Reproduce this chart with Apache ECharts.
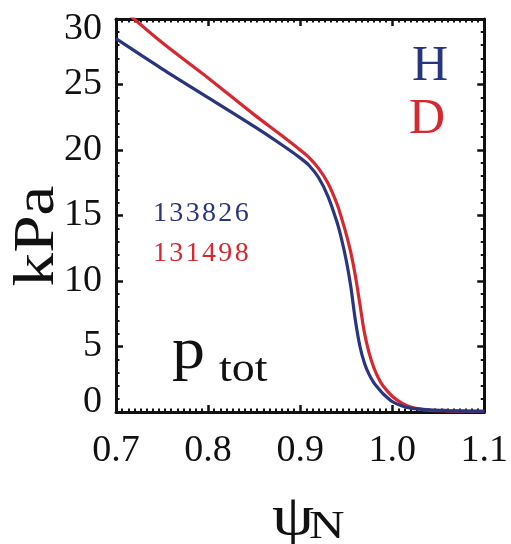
<!DOCTYPE html>
<html>
<head>
<meta charset="utf-8">
<script src="https://cdn.jsdelivr.net/npm/echarts@6/dist/echarts.min.js"></script>
<style>
html,body{margin:0;padding:0;background:#fff;}
#c{width:511px;height:544px;}
</style>
</head>
<body>
<div id="c"></div>
<script>
// Data
const psiH = [0.70, 0.75, 0.80, 0.85, 0.88, 0.90, 0.91, 0.92, 0.93, 0.94, 0.945, 0.95, 0.955, 0.96, 0.965, 0.97, 0.975, 0.98, 0.985, 0.99, 1.00, 1.01, 1.02, 1.04, 1.06, 1.08, 1.10];
const pH   = [28.5, 26.2, 24.0, 21.8, 20.4, 19.4, 18.8, 17.9, 16.5, 14.5, 13.2, 11.6, 9.6, 7.0, 5.0, 3.7, 2.85, 2.25, 1.8, 1.4, 0.8, 0.48, 0.3, 0.17, 0.11, 0.07, 0.05];
const psiD = [0.70, 0.75, 0.80, 0.85, 0.88, 0.90, 0.91, 0.92, 0.93, 0.94, 0.945, 0.95, 0.955, 0.96, 0.965, 0.97, 0.975, 0.98, 0.985, 0.99, 1.00, 1.01, 1.02, 1.03, 1.04, 1.06, 1.08, 1.10];
const pD   = [31.2, 28.2, 25.5, 22.7, 21.1, 20.0, 19.4, 18.6, 17.5, 15.9, 14.8, 13.6, 12.2, 10.4, 8.2, 6.0, 4.5, 3.4, 2.6, 2.0, 1.2, 0.7, 0.38, 0.22, 0.14, 0.09, 0.06, 0.05];
const shotH = '133826';
const shotD = '131498';
const labelH = 'H';
const labelD = 'D';

const BLUE = '#2a3580';
const RED = '#d7282f';
const FONT = 'Liberation Serif';

const chart = echarts.init(document.getElementById('c'), null, {renderer: 'canvas'});

const axLine = {show: true, onZero: false, lineStyle: {color: '#111', width: 3}};
const tick = {show: true, inside: true, length: 7, lineStyle: {color: '#111', width: 2.5}};
function minor(n) { return {show: true, splitNumber: n, length: 3.5, lineStyle: {color: '#111', width: 2}}; }

chart.setOption({
  animation: false,
  backgroundColor: '#fff',
  grid: {left: 116, top: 19, width: 372, height: 393, containLabel: false},
  xAxis: [
    {type: 'value', min: 0.7, max: 1.1, interval: 0.1, position: 'bottom',
     axisLine: axLine, axisTick: tick, minorTick: minor(15),
     splitLine: {show: false}, minorSplitLine: {show: false},
     axisLabel: {show: true, margin: 20, fontFamily: FONT, fontSize: 38, color: '#111',
       formatter: v => v.toFixed(1)}},
    {type: 'value', min: 0.7, max: 1.1, interval: 0.1, position: 'top',
     axisLine: axLine, axisTick: tick, minorTick: minor(15),
     splitLine: {show: false}, axisLabel: {show: false}}
  ],
  yAxis: [
    {type: 'value', min: 0, max: 30, interval: 5, position: 'left',
     axisLine: axLine, axisTick: tick, minorTick: minor(5),
     splitLine: {show: false}, minorSplitLine: {show: false},
     axisLabel: {show: true, margin: 14, fontFamily: FONT, fontSize: 38, lineHeight: 20, color: '#111',
       verticalAlignMinLabel: 'bottom', verticalAlignMaxLabel: 'top'}},
    {type: 'value', min: 0, max: 30, interval: 5, position: 'right',
     axisLine: axLine, axisTick: tick, minorTick: minor(5),
     splitLine: {show: false}, axisLabel: {show: false}}
  ],
  series: [
    {type: 'line', name: 'D', data: psiD.map((x, i) => [x, pD[i]]), smooth: 0.3,
     symbol: 'none', clip: true, lineStyle: {color: RED, width: 3.2}, z: 3},
    {type: 'line', name: 'H', data: psiH.map((x, i) => [x, pH[i]]), smooth: 0.3,
     symbol: 'none', clip: true, lineStyle: {color: BLUE, width: 3.2}, z: 4}
  ],
  graphic: [
    {type: 'text', x: 38, y: 236, rotation: Math.PI / 2, scaleX: 1.2,
     style: {text: 'kPa', fontFamily: FONT, fontSize: 56, fill: '#111', align: 'center', verticalAlign: 'middle'}},
    {type: 'text', x: 272, y: 519, scaleX: 1.2,
     style: {text: 'ψ', fontFamily: FONT, fontSize: 56, fill: '#111', align: 'left', verticalAlign: 'middle'}},
    {type: 'text', x: 309, y: 527, scaleX: 1.2,
     style: {text: 'N', fontFamily: FONT, fontSize: 41, fill: '#111', align: 'left', verticalAlign: 'middle'}},
    {type: 'text', x: 172, y: 352, scaleX: 1.1,
     style: {text: 'p', fontFamily: FONT, fontSize: 60, fill: '#111', align: 'left', verticalAlign: 'middle'}},
    {type: 'text', x: 219, y: 370, scaleX: 1.15,
     style: {text: 'tot', fontFamily: FONT, fontSize: 40, fill: '#111', align: 'left', verticalAlign: 'middle'}},
    {type: 'text', x: 430, y: 67,
     style: {text: labelH, fontFamily: FONT, fontSize: 50, fill: BLUE, align: 'center', verticalAlign: 'middle'}},
    {type: 'text', x: 427, y: 120,
     style: {text: labelD, fontFamily: FONT, fontSize: 50, fill: RED, align: 'center', verticalAlign: 'middle'}},
    {type: 'text', x: 153, y: 214,
     style: {text: shotH.split('').join('\u200A'), fontFamily: FONT, fontSize: 28, fill: BLUE, verticalAlign: 'middle'}},
    {type: 'text', x: 153, y: 254,
     style: {text: shotD.split('').join('\u200A'), fontFamily: FONT, fontSize: 28, fill: RED, verticalAlign: 'middle'}}
  ]
});
</script>
</body>
</html>
